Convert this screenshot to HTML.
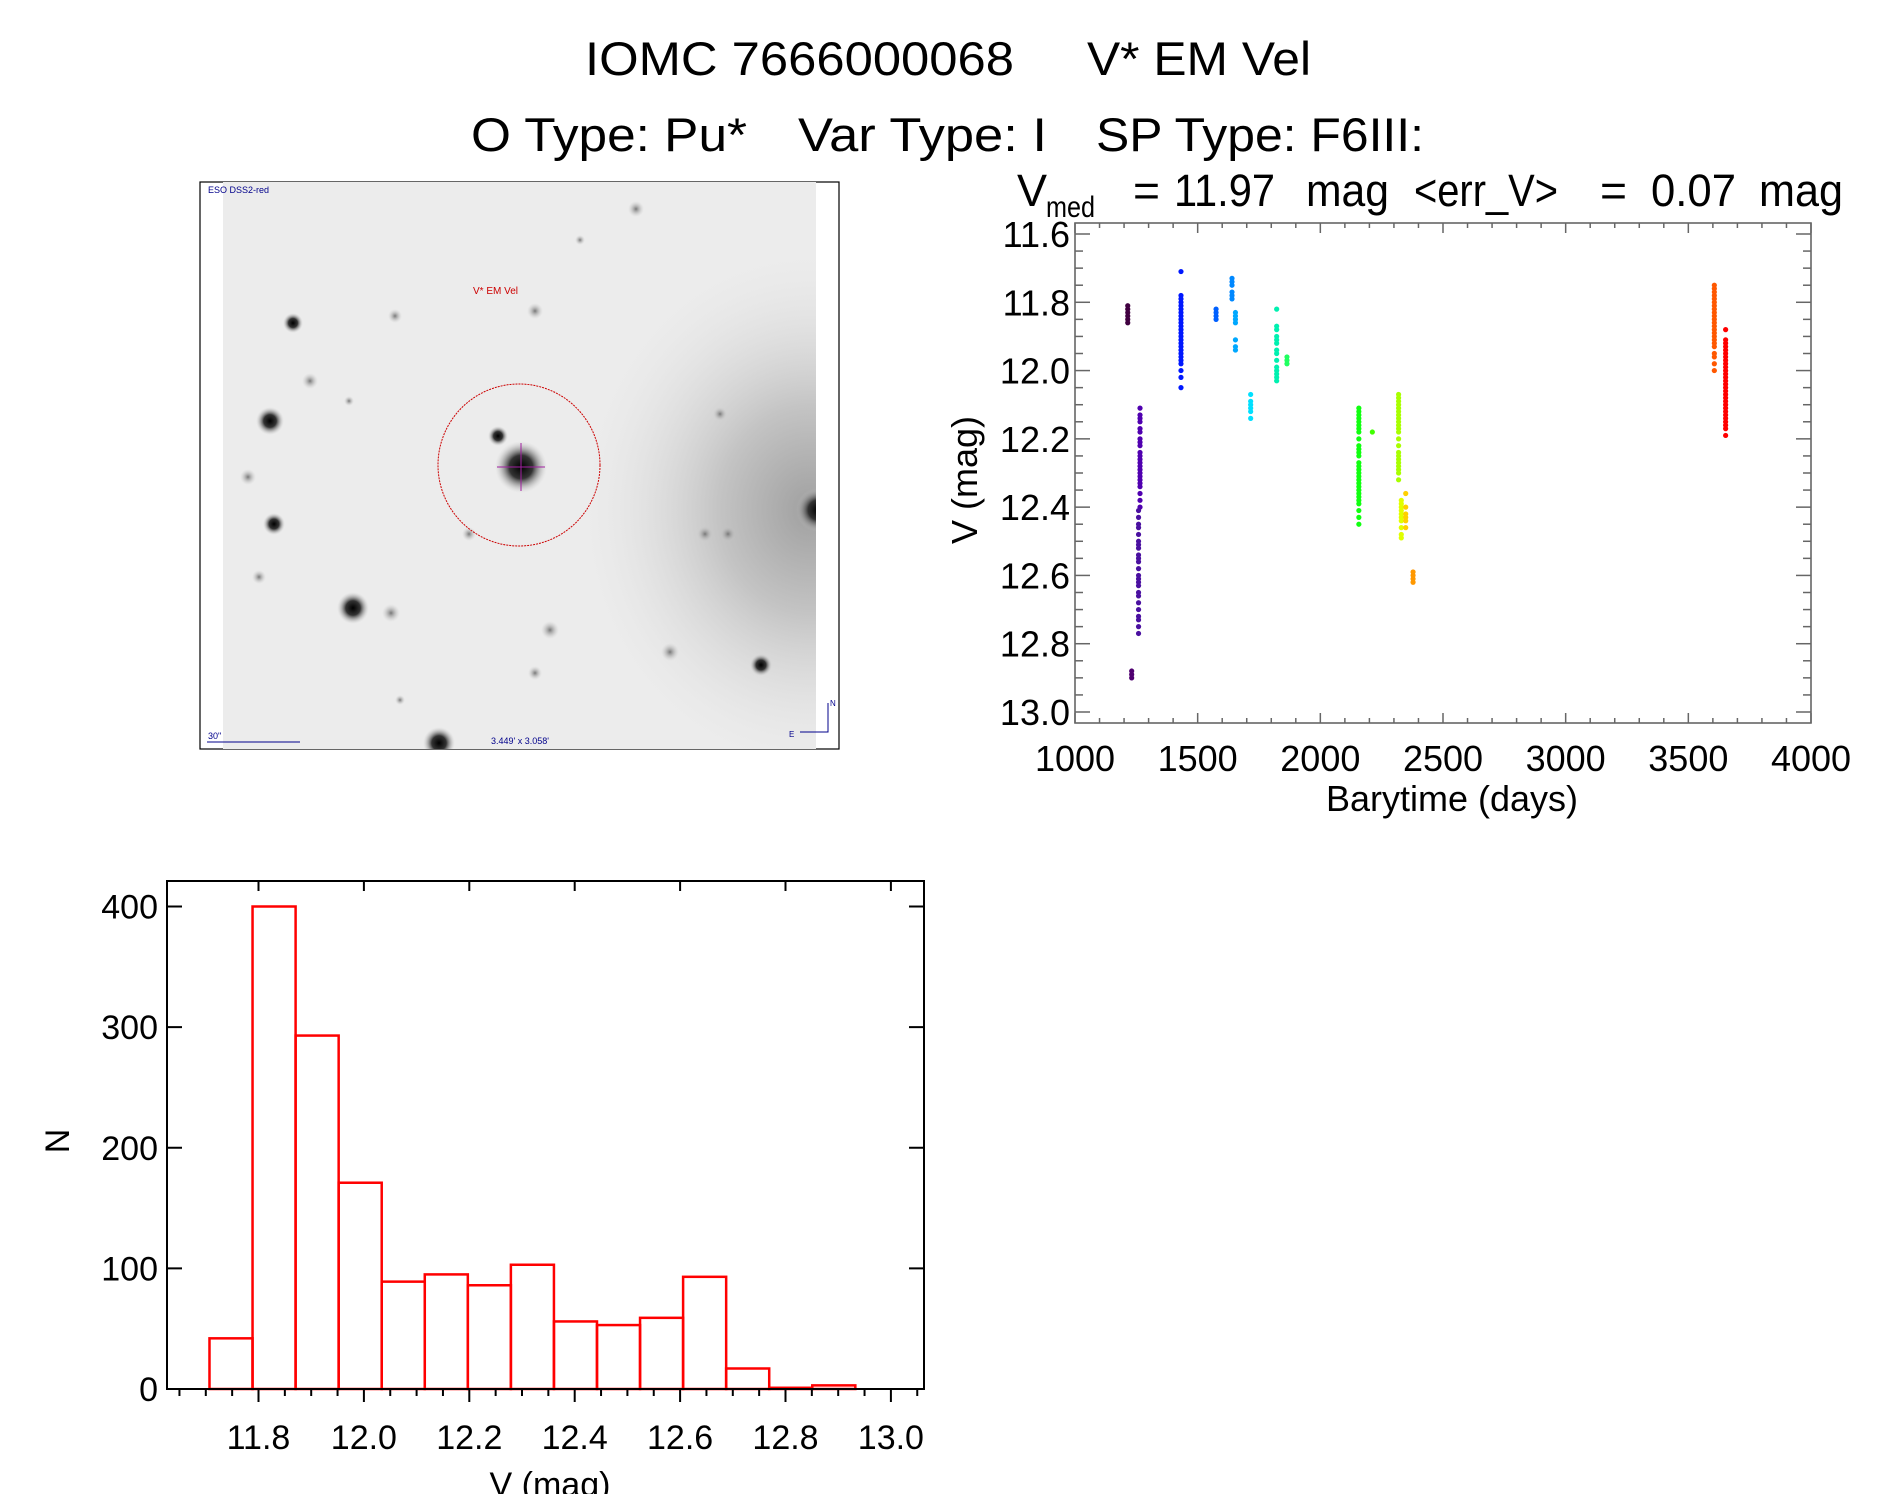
<!DOCTYPE html>
<html><head><meta charset="utf-8"><style>
html,body{margin:0;padding:0;background:#fff;}
svg{display:block;font-family:"Liberation Sans",sans-serif;}
</style></head><body>
<svg id="page" width="1889" height="1494" viewBox="0 0 1889 1494" xmlns="http://www.w3.org/2000/svg">
<defs>
 <radialGradient id="haze" cx="0.5" cy="0.5" r="0.5"><stop offset="0" stop-color="#a0a0a0"/><stop offset="0.4" stop-color="#c4c4c4"/><stop offset="1" stop-color="#e6e6e6" stop-opacity="0"/></radialGradient>
 <radialGradient id="star" cx="0.5" cy="0.5" r="0.5"><stop offset="0" stop-color="#000"/><stop offset="0.45" stop-color="#333"/><stop offset="1" stop-color="#ccc" stop-opacity="0"/></radialGradient>
 <radialGradient id="faint" cx="0.5" cy="0.5" r="0.5"><stop offset="0" stop-color="#777"/><stop offset="1" stop-color="#ccc" stop-opacity="0"/></radialGradient>
 <clipPath id="imgclip"><rect x="223" y="182" width="593" height="567"/></clipPath>
</defs>

<g font-size="47" fill="#000">
 <text x="585" y="75" textLength="429" lengthAdjust="spacingAndGlyphs">IOMC 7666000068</text>
 <text x="1087" y="75" textLength="224" lengthAdjust="spacingAndGlyphs">V* EM Vel</text>
 <text x="471" y="151" textLength="276" lengthAdjust="spacingAndGlyphs">O Type: Pu*</text>
 <text x="798" y="151" textLength="249" lengthAdjust="spacingAndGlyphs">Var Type: I</text>
 <text x="1096" y="151" textLength="328" lengthAdjust="spacingAndGlyphs">SP Type: F6III:</text>
</g>

<g>
 <rect x="200" y="182" width="639" height="567" fill="#fff" stroke="#000" stroke-width="1.2"/>
 <g clip-path="url(#imgclip)">
  <rect x="223" y="182" width="593" height="567" fill="#ececec"/>
  <ellipse cx="810" cy="510" rx="230" ry="260" fill="url(#haze)"/>
  <circle cx="818" cy="510" r="22" fill="url(#star)"/>
  <g id="stars"></g>
  <circle cx="521" cy="467" r="26" fill="url(#star)"/>
  <line x1="497" y1="467" x2="545" y2="467" stroke="#a020a0" stroke-width="1"/>
  <line x1="521" y1="443" x2="521" y2="491" stroke="#a020a0" stroke-width="1"/>
 </g>
 <ellipse cx="519" cy="465" rx="81" ry="81" fill="none" stroke="#c00" stroke-width="1" stroke-dasharray="2,1"/>
 <text x="473" y="294" font-size="10" fill="#c00">V* EM Vel</text>
 <text x="208" y="193" font-size="9" fill="#00008b">ESO DSS2-red</text>
 <text x="208" y="739" font-size="9" fill="#00008b">30"</text>
 <line x1="207" y1="742" x2="300" y2="742" stroke="#00008b" stroke-width="1"/>
 <text x="491" y="744" font-size="9" fill="#00008b">3.449' x 3.058'</text>
 <path d="M828,703 V732 H800" fill="none" stroke="#00008b" stroke-width="1"/>
 <text x="830" y="706" font-size="8" fill="#00008b">N</text>
 <text x="789" y="737" font-size="8" fill="#00008b">E</text>
</g>

<g id="lc"></g>
<g id="hist"></g>

<text font-size="45" y="206" fill="#000"><tspan x="1017">V</tspan><tspan x="1046" y="217" font-size="30" textLength="49" lengthAdjust="spacingAndGlyphs">med</tspan></text>
<g font-size="45" fill="#000">
 <text x="1133" y="206" textLength="27" lengthAdjust="spacingAndGlyphs">=</text>
 <text x="1174" y="206" textLength="101" lengthAdjust="spacingAndGlyphs">11.97</text>
 <text x="1306" y="206" textLength="83" lengthAdjust="spacingAndGlyphs">mag</text>
 <text x="1414" y="206" textLength="144" lengthAdjust="spacingAndGlyphs">&lt;err_V&gt;</text>
 <text x="1600" y="206" textLength="27" lengthAdjust="spacingAndGlyphs">=</text>
 <text x="1651" y="206" textLength="85" lengthAdjust="spacingAndGlyphs">0.07</text>
 <text x="1759" y="206" textLength="84" lengthAdjust="spacingAndGlyphs">mag</text>
</g>
</svg>

<script>
var NS='http://www.w3.org/2000/svg';
function mk(tag,attrs,parent){var e=document.createElementNS(NS,tag);for(var k in attrs)e.setAttribute(k,attrs[k]);parent.appendChild(e);return e;}

// ---- sky image stars (decorative) ----
var starX=[636,293,395,535,310,270,498,248,274,469,705,728,259,353,391,550,670,761,535,439,720,349,580,400];
var starY=[209,323,316,311,381,421,436,477,524,534,534,534,577,608,613,630,652,665,673,743,414,401,240,700];
var starR=[8,10,7,8,8,14,10,8,11,7,8,8,7,16,9,9,9,11,7,16,7,5,5,5];
var sg=document.getElementById('stars');
for(var i=0;i<starX.length;i++){
 var s=mk('circle',{cx:starX[i],cy:starY[i],r:starR[i],fill:starR[i]>9?'url(#star)':'url(#faint)'},sg);
 
 
}

// ---- light curve data ----
var clusterTimes=[1215,1231,1265,1259,1432,1575,1640,1654,1716,1822,1864,2157,2212,2319,2330,2348,2378,3606,3652];
var clusterColors=['#400040','#500070','#5000b0','#4a10a0','#0018ff','#0060ff','#0088ff','#00a8ff','#00e0ff','#00f0b0','#20ff60','#10ff10','#40ff00','#a8ff00','#e0ff00','#ffd000','#ff9800','#ff5800','#ff0000'];
var clusterMags=[
 [11.81,11.82,11.83,11.84,11.85,11.86],
 [12.88,12.89,12.90],
 [12.11,12.13,12.14,12.15,12.17,12.18,12.2,12.21,12.22,12.24,12.25,12.26,12.27,12.28,12.29,12.3,12.31,12.32,12.33,12.34,12.36,12.38,12.4],
 [12.41,12.43,12.45,12.46,12.48,12.5,12.51,12.52,12.54,12.55,12.56,12.58,12.6,12.61,12.62,12.63,12.65,12.66,12.68,12.7,12.72,12.73,12.75,12.77],
 [11.71,11.78,11.79,11.8,11.81,11.82,11.83,11.84,11.85,11.86,11.87,11.88,11.89,11.9,11.91,11.92,11.93,11.94,11.95,11.96,11.97,11.98,12.0,12.02,12.05],
 [11.82,11.83,11.84,11.85],
 [11.73,11.74,11.75,11.77,11.78,11.79],
 [11.83,11.84,11.85,11.86,11.91,11.93,11.94],
 [12.07,12.09,12.1,12.11,12.12,12.14],
 [11.82,11.87,11.88,11.9,11.91,11.92,11.94,11.95,11.97,11.99,12.0,12.01,12.02,12.03],
 [11.96,11.97,11.98],
 [12.11,12.12,12.13,12.14,12.15,12.16,12.17,12.18,12.2,12.22,12.23,12.24,12.25,12.27,12.28,12.29,12.3,12.31,12.32,12.33,12.34,12.35,12.36,12.37,12.38,12.39,12.41,12.43,12.45],
 [12.18],
 [12.07,12.08,12.09,12.1,12.11,12.12,12.13,12.14,12.15,12.16,12.17,12.18,12.2,12.22,12.24,12.25,12.26,12.27,12.28,12.29,12.3,12.32],
 [12.38,12.39,12.4,12.41,12.42,12.43,12.44,12.46,12.48,12.49],
 [12.36,12.4,12.42,12.43,12.44,12.46],
 [12.59,12.6,12.61,12.62],
 [11.75,11.76,11.77,11.78,11.79,11.8,11.81,11.82,11.83,11.84,11.85,11.86,11.87,11.88,11.89,11.9,11.91,11.92,11.93,11.95,11.96,11.98,12.0],
 [11.88,11.91,11.92,11.93,11.94,11.95,11.96,11.97,11.98,11.99,12.0,12.01,12.02,12.03,12.04,12.05,12.06,12.07,12.08,12.09,12.1,12.11,12.12,12.13,12.14,12.15,12.16,12.17,12.19]
];
var lcXTicks=[1000,1500,2000,2500,3000,3500,4000];
var lcYTicks=[11.6,11.8,12.0,12.2,12.4,12.6,12.8,13.0];

var L={x0:1075,x1:1811,y0:223,y1:723};
function lx(t){return L.x0+(t-1000)/3000*(L.x1-L.x0);}
function ly(m){return 234+(m-11.6)/1.4*(712-234);}
var lc=document.getElementById('lc');
var fr=mk('rect',{x:L.x0,y:L.y0,width:L.x1-L.x0,height:L.y1-L.y0,fill:'none',stroke:'#666','stroke-width':1.6},lc);


for(var t=1000;t<=4000;t+=100){
 var maj=(t%500===0)?10:5;
 mk('line',{x1:lx(t),y1:L.y1,x2:lx(t),y2:L.y1-maj,stroke:'#666','stroke-width':1.5},lc);
 mk('line',{x1:lx(t),y1:L.y0,x2:lx(t),y2:L.y0+maj,stroke:'#666','stroke-width':1.5},lc);
}
for(var k=0;k<=28;k++){
 var m=11.6+k*0.05, len=(k%4===0)?15:8;
 mk('line',{x1:L.x0,y1:ly(m),x2:L.x0+len,y2:ly(m),stroke:'#666','stroke-width':1.5},lc);
 mk('line',{x1:L.x1,y1:ly(m),x2:L.x1-len,y2:ly(m),stroke:'#666','stroke-width':1.5},lc);
}
lcXTicks.forEach(function(t){
 var tx=mk('text',{x:lx(t),y:771,'font-size':36,'text-anchor':'middle'},lc);tx.textContent=String(t);
 
 
});
lcYTicks.forEach(function(m){
 var tx=mk('text',{x:1070,y:ly(m)+13,'font-size':36,'text-anchor':'end'},lc);tx.textContent=m.toFixed(1);
 
 
});
var xt=mk('text',{x:1452,y:811,'font-size':36,'text-anchor':'middle'},lc);xt.textContent='Barytime (days)';


var yt=mk('text',{x:0,y:0,'font-size':36,'text-anchor':'middle',transform:'translate(977,480) rotate(-90)'},lc);yt.textContent='V (mag)';


for(var c=0;c<clusterTimes.length;c++){
 var g=mk('g',{fill:clusterColors[c]},lc);
 
 
 clusterMags[c].forEach(function(v){
  var p=mk('circle',{cx:lx(clusterTimes[c]),cy:ly(v),r:2.6},g);
  
  
 });
}

// ---- histogram data ----
var binStart=11.707, binWidth=0.0817;
var binCounts=[42,400,293,171,89,95,86,103,56,53,59,93,17,1,3];
var histXTicks=[11.8,12.0,12.2,12.4,12.6,12.8,13.0];
var histYTicks=[0,100,200,300,400];

var H={x0:167,x1:924,y0:881,y1:1389};
function hx(v){return 258.5+(v-11.8)/0.2*105.4;}
function hy(n){return H.y1-n*(H.y1-906.5)/400;}
var hg=document.getElementById('hist');
for(var b=0;b<binCounts.length;b++){
 var a=binStart+b*binWidth;
 var r=mk('rect',{x:hx(a),y:hy(binCounts[b]),width:hx(a+binWidth)-hx(a),height:H.y1-hy(binCounts[b]),fill:'none',stroke:'#ff0000','stroke-width':2.5},hg);
 
 
}
var hf=mk('rect',{x:H.x0,y:H.y0,width:H.x1-H.x0,height:H.y1-H.y0,fill:'none',stroke:'#000','stroke-width':2},hg);


for(var q=0;q<=28;q++){
 var v=11.65+q*0.05; if(hx(v)>H.x1)break;
 var isMaj=Math.abs(((v-11.8)/0.2)-Math.round((v-11.8)/0.2))<0.01;
 mk('line',{x1:hx(v),y1:H.y1,x2:hx(v),y2:H.y1+(isMaj?13:7),stroke:'#000','stroke-width':2},hg);
}
histXTicks.forEach(function(v){
 mk('line',{x1:hx(v),y1:H.y0,x2:hx(v),y2:H.y0+10,stroke:'#000','stroke-width':2},hg);
 var tx=mk('text',{x:hx(v),y:1449,'font-size':34,'text-anchor':'middle'},hg);tx.textContent=v.toFixed(1);
 
 
});
histYTicks.forEach(function(n){
 mk('line',{x1:H.x0,y1:hy(n),x2:H.x0+15,y2:hy(n),stroke:'#000','stroke-width':2},hg);
 mk('line',{x1:H.x1,y1:hy(n),x2:H.x1-15,y2:hy(n),stroke:'#000','stroke-width':2},hg);
 var tx=mk('text',{x:158,y:hy(n)+12,'font-size':34,'text-anchor':'end'},hg);tx.textContent=String(n);
 
 
});
var hxT=mk('text',{x:550,y:1496,'font-size':34,'text-anchor':'middle'},hg);hxT.textContent='V (mag)';


var hyT=mk('text',{x:0,y:0,'font-size':34,'text-anchor':'middle',transform:'translate(69,1141) rotate(-90)'},hg);hyT.textContent='N';


</script>
</body></html>
